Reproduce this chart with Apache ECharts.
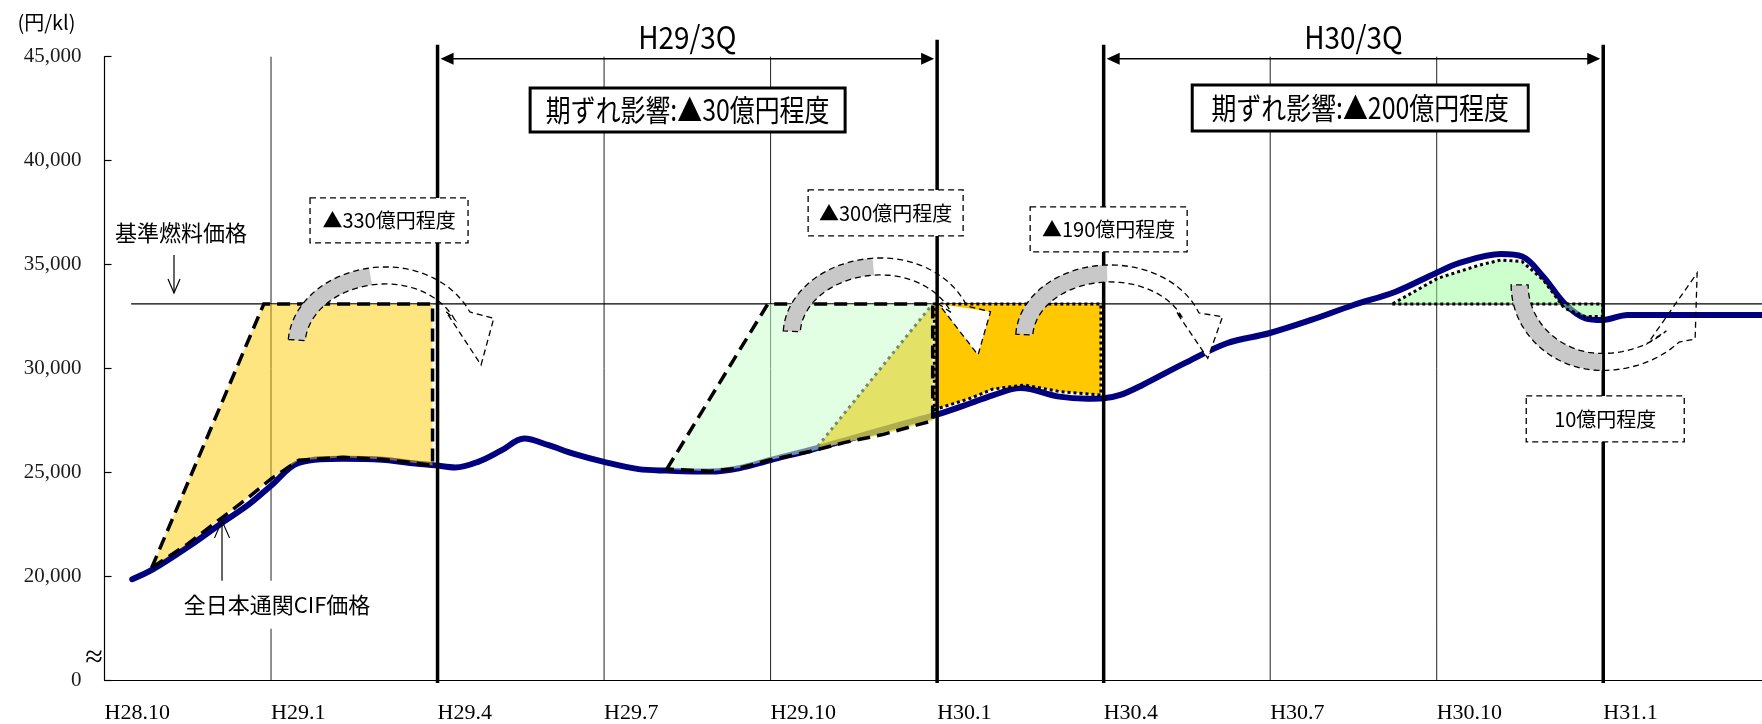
<!DOCTYPE html>
<html><head><meta charset="utf-8">
<script src="https://cdn.jsdelivr.net/npm/echarts@6/dist/echarts.min.js"></script>
<style>html,body{margin:0;padding:0;background:#fff}#c{width:1762px;height:724px}</style>
</head><body><div id="c"></div>
<script>
// ================= DATA (month index from H28.10 = 0, yen/kl) =================
const monthTickLabels = ['H28.10','H29.1','H29.4','H29.7','H29.10','H30.1','H30.4','H30.7','H30.10','H31.1'];
const brokenAxisZeroAt = 15000;           // y value shown as "0" (broken axis)
const baseFuelPrice = 33100;              // 基準燃料価格
const baseFuelRange = [0.48, 29.86];
const cifPrice = [
  [0.5,19850],[0.87,20320],[1.5,21400],[2.12,22570],[2.6,23450],[3.0,24350],[3.5,25450],
  [4.3,25650],[5.0,25600],[5.6,25420],[5.96,25330],[6.32,25230],[6.73,25500],[7.15,26050],
  [7.56,26620],[8.0,26300],[8.46,25880],[8.98,25510],[9.62,25150],[10.13,25080],[10.91,25030],
  [11.43,25190],[12.0,25590],[12.71,26070],[13.36,26550],[14.0,27040],[14.64,27520],[14.98,27760],
  [15.6,28320],[16.0,28700],[16.5,29050],[17.2,28640],[17.7,28540],[18.0,28560],[18.3,28720],
  [18.7,29200],[19.46,30250],[20.22,31210],[20.98,31690],[21.74,32330],[22.5,33050],[23.26,33690],
  [23.98,34580],[24.4,35060],[25.16,35500],[25.54,35380],[25.92,34410],[26.3,33130],[26.68,32410],
  [26.99,32330],[27.44,32570],[28.5,32570],[29.86,32570]
];
const thinGridMonths = [3, 9, 12, 21, 24];
const quarterBoundaryMonths = [6, 15, 18, 27];
const quarterSpans = [['H29/3Q', 6, 15], ['H30/3Q', 18, 27]];

// shaded regions (polygon vertices, [month, yen/kl])
const areaA = [[0.85,20400],[2.87,33100],[5.91,33100],[5.91,25330],[5.5,25480],[5.0,25620],[4.3,25720],
  [3.5,25580],[3.0,24680],[2.6,23800],[2.12,22820],[1.5,21550],[0.85,20400]];
const areaB = [[10.13,25150],[11.95,33100],[14.92,33100],[14.92,27480],[14.64,27280],[14.0,26800],
  [13.36,26450],[12.71,26000],[12.0,25600],[11.43,25200],[10.91,25050],[10.13,25150]];
const areaBOverlap = [[12.85,26250],[14.92,33100],[14.92,27480],[14.64,27280],[14.0,26800],[13.36,26450],[12.85,26150]];
const areaBDiagonal = [[12.85,26250],[14.92,33100]];
const areaC = [[14.95,33100],[17.95,33100],[17.95,28720],[17.21,28880],[16.57,29200],[16.0,29000],
  [15.6,28560],[15.03,28080],[14.95,28000]];
const areaD = [[23.2,33100],[26.99,33100],[26.99,32490],[26.68,32490],[26.3,32893],[25.92,34255],
  [25.54,35135],[25.16,35217],[24.78,34977],[24.02,34337],[23.6,33700],[23.2,33100]];

// annotation texts and anchors ([month, yen/kl])
const solidBoxTexts = ['期ずれ影響:▲30億円程度', '期ずれ影響:▲200億円程度'];
const solidBoxAt = [[10.505,42435],[22.622,42531]];
const dashBoxTexts = ['▲330億円程度', '▲300億円程度', '▲190億円程度', '10億円程度'];
const dashBoxAt = [[5.126,37118],[14.072,37479],[18.09,36685],[27.036,27566]];
const arrowCenters = [[5.072,31127],[13.991,31608],[18.117,31464],[26.98,34014]];
const baseLabel = ['基準燃料価格', [1.378,36516]];
const baseArrow = [1.252, 35458, 33630];
const cifLabel = ['全日本通関CIF価格', [3.108,18616]];
const cifArrow = [2.117, 19771, 22659];
const unitLabel = ['(円/kl)', [-1.045,46670]];
const breakMark = ['≈', [-0.19,16017]];

// ================= STYLE =================
const JP = "'Noto Sans CJK JP','Noto Sans CJK SC',sans-serif";
const SERIF = "'Liberation Serif','DejaVu Serif',serif";
const solidBoxSize = [[315,44],[336,46]];
const dashBoxSize = [[158,45],[155,46],[157,45],[158,46]];
const arrowGeom = [
  {rxL:89.5, rxR:84, ry:69.5, w:17, t0:176, tg:100, t1:25, head:[[-16.1,-3.9],[31.6,2.7],[18.9,49.4]], headFill:'#fff'},
  {rxL:89.5, rxR:84, ry:68.5, w:17, t0:177, tg:95,  t1:22, head:[[-20.3,-5.3],[31.5,2.4],[19,45.7]], headFill:'#fff'},
  {rxL:86,   rxR:86, ry:64.5, w:17, t0:177, tg:92,  t1:20, head:[[-14.8,-4.2],[31.6,0.8],[16.8,42.4]], headFill:'#fff'},
  {rxL:82.5, rxR:95, ry:77,   w:17, t0:180, tg:270, t1:318, head:[[-24.6,6.5],[22.4,2.5],[24.4,-63.5]], headFill:'none'}
];
const DASHED = {stroke:'#000', lineWidth:3.5, lineDash:[13,7]};
const DOTTED = {stroke:'#000', lineWidth:3, lineDash:[3,3]};
const fillDefs = [
  [areaA, 'rgba(255,204,0,0.5)'],
  [areaB, 'rgba(204,255,204,0.55)'],
  [areaBOverlap, 'rgba(228,200,0,0.55)'],
  [areaC, '#FFC800'],
  [areaD, 'rgba(153,255,153,0.5)']
];
const outlineDefs = [
  [areaA, DASHED, true], [areaB, DASHED, true],
  [areaBDiagonal, {stroke:'#6E8B74', lineWidth:3, lineDash:[3,4]}, false],
  [areaC, DOTTED, true], [areaD, DOTTED, true]
];

// ================= RENDER =================
const chart = echarts.init(document.getElementById('c'));
const pts = (api, arr) => arr.map(p => api.coord(p));

function arrowShapes(api, center, a) {
  const c = api.coord(center);
  const P = (t, off) => { const r = t*Math.PI/180, co = Math.cos(r), si = Math.sin(r);
    const rx = (co < 0 ? a.rxL : a.rxR) + off, ry = a.ry + off; return [c[0] + rx*co, c[1] - ry*si]; };
  const arc = (tA, tB, off) => { const out = []; for (let i = 0; i <= 40; i++) out.push(P(tA + (tB - tA)*i/40, off)); return out; };
  const h = a.w/2, e = P(a.t1, 0);
  const b1 = [e[0]+a.head[0][0], e[1]+a.head[0][1]], b2 = [e[0]+a.head[1][0], e[1]+a.head[1][1]], tip = [e[0]+a.head[2][0], e[1]+a.head[2][1]];
  const gray = arc(a.t0, a.tg, h).concat(arc(a.tg, a.t0, -h));
  const outline = arc(a.t0, a.t1, h).concat([b2, tip, b1]).concat(arc(a.t1, a.t0, -h));
  return [
    {type:'polygon', shape:{points:gray}, style:{fill:'#C8C8C8'}},
    {type:'polygon', shape:{points:[b1,b2,tip]}, style:{fill:a.headFill}},
    {type:'polygon', shape:{points:outline}, style:{fill:'none', stroke:'#000', lineWidth:1.3, lineDash:[6,4]}}
  ];
}

function notes(params, api) {
  const ch = [];
  const text = (t, p, size, extra) => Object.assign({type:'text', x:p[0], y:p[1],
    style:Object.assign({text:t, fontSize:size, fontFamily:JP, fill:'#000', align:'center', verticalAlign:'middle'}, (extra||{}).style||{})},
    (extra||{}).el||{});
  // quarter double arrows
  quarterSpans.forEach(q => {
    const a = api.coord([q[1], 45000]), b = api.coord([q[2], 45000]);
    const y = a[1] + 2, x1 = a[0] + 3, x2 = b[0] - 3;
    ch.push({type:'line', shape:{x1:x1+10, y1:y, x2:x2-10, y2:y}, style:{stroke:'#000', lineWidth:1.5}});
    ch.push({type:'polygon', shape:{points:[[x1,y],[x1+13,y-6],[x1+13,y+6]]}, style:{fill:'#000'}});
    ch.push({type:'polygon', shape:{points:[[x2,y],[x2-13,y-6],[x2-13,y+6]]}, style:{fill:'#000'}});
    ch.push(text(q[0], [(x1+x2)/2, y - 21], 31, {el:{scaleX:0.9}}));
  });
  // solid boxes
  solidBoxTexts.forEach((t, i) => {
    const p = api.coord(solidBoxAt[i]), s = solidBoxSize[i];
    ch.push({type:'rect', shape:{x:p[0]-s[0]/2, y:p[1]-s[1]/2, width:s[0], height:s[1]}, style:{fill:'#fff', stroke:'#000', lineWidth:3}});
    ch.push(text(t, p, 30, {el:{scaleX:0.83}}));
  });
  // curved arrows
  arrowCenters.forEach((c, i) => arrowShapes(api, c, arrowGeom[i]).forEach(e => ch.push(e)));
  // dashed boxes
  dashBoxTexts.forEach((t, i) => {
    const p = api.coord(dashBoxAt[i]), s = dashBoxSize[i];
    ch.push({type:'rect', shape:{x:p[0]-s[0]/2, y:p[1]-s[1]/2, width:s[0], height:s[1]}, style:{fill:'#fff', stroke:'#000', lineWidth:1.3, lineDash:[6,4]}});
    ch.push(text(t, p, 20));
  });
  // base fuel label + arrow
  ch.push(text(baseLabel[0], api.coord(baseLabel[1]), 22));
  {
    const a = api.coord([baseArrow[0], baseArrow[1]]), b = api.coord([baseArrow[0], baseArrow[2]]);
    ch.push({type:'line', shape:{x1:a[0], y1:a[1], x2:b[0], y2:b[1]}, style:{stroke:'#000', lineWidth:1.2}});
    ch.push({type:'polyline', shape:{points:[[b[0]-6,b[1]-14],[b[0],b[1]],[b[0]+6,b[1]-14]]}, style:{stroke:'#000', lineWidth:1.2, fill:'none'}});
  }
  // CIF label + arrow
  ch.push(text(cifLabel[0], api.coord(cifLabel[1]), 22, {style:{backgroundColor:'#fff', padding:[13,4]}}));
  {
    const a = api.coord([cifArrow[0], cifArrow[1]]), b = api.coord([cifArrow[0], cifArrow[2]]);
    ch.push({type:'line', shape:{x1:a[0], y1:a[1], x2:b[0], y2:b[1]}, style:{stroke:'#000', lineWidth:1.2}});
    ch.push({type:'polyline', shape:{points:[[b[0]-7.5,b[1]+17],[b[0],b[1]],[b[0]+7.5,b[1]+17]]}, style:{stroke:'#000', lineWidth:1.2, fill:'none'}});
  }
  ch.push(text(unitLabel[0], api.coord(unitLabel[1]), 20));
  ch.push(text(breakMark[0], api.coord(breakMark[1]), 32, {style:{fontFamily:SERIF}}));
  return {type:'group', children:ch};
}

const option = {
  animation:false,
  backgroundColor:'#fff',
  grid:{left:104.5, right:0, top:56.7, bottom:43.9},
  xAxis:{type:'value', min:0, max:29.86, interval:3,
    axisLine:{show:true, onZero:false, lineStyle:{color:'#000', width:1.2}},
    axisTick:{show:false}, splitLine:{show:false},
    axisLabel:{formatter:v => monthTickLabels[Math.round(v/3)] || '', align:'left', margin:22,
      fontFamily:SERIF, fontSize:22, color:'#000', showMaxLabel:false}},
  yAxis:{type:'value', min:15000, max:45000, interval:5000,
    axisLine:{show:true, lineStyle:{color:'#000', width:1.2}},
    axisTick:{show:true, inside:true, length:7, lineStyle:{color:'#000', width:1.2}},
    splitLine:{show:false},
    axisLabel:{formatter:v => v === brokenAxisZeroAt ? '0' : v.toLocaleString('en-US'), margin:23,
      fontFamily:SERIF, fontSize:21, color:'#1a1a1a'}},
  series:[
    {type:'custom', z:1, silent:true, data:[[0,30000]], renderItem:(p, api) => ({type:'group',
      children:thinGridMonths.map(m => { const a = api.coord([m,15000]), b = api.coord([m,45000]);
        return {type:'line', shape:{x1:a[0], y1:a[1], x2:b[0], y2:b[1]}, style:{stroke:'#222', lineWidth:1}}; })})},
    {type:'line', z:2, silent:true, symbol:'none', data:[[baseFuelRange[0],baseFuelPrice],[baseFuelRange[1],baseFuelPrice]],
      lineStyle:{color:'#000', width:1.2}},
    {type:'line', z:3, silent:true, symbol:'none', smooth:0.35, data:cifPrice,
      lineStyle:{color:'#000080', width:6, cap:'round', join:'round'}},
    {type:'custom', z:4, silent:true, data:fillDefs.map((d,i) => [i,30000]), renderItem:(p, api) => {
      const d = fillDefs[p.dataIndex];
      return {type:'polygon', shape:{points:pts(api, d[0])}, style:{fill:d[1]}}; }},
    {type:'custom', z:5, silent:true, data:outlineDefs.map((d,i) => [i,30000]), renderItem:(p, api) => {
      const d = outlineDefs[p.dataIndex];
      return {type:d[2] ? 'polygon' : 'polyline', shape:{points:pts(api, d[0])}, style:Object.assign({fill:'none'}, d[1])}; }},
    {type:'custom', z:6, silent:true, clip:false, data:[[0,30000]], renderItem:(p, api) => ({type:'group',
      children:quarterBoundaryMonths.map(m => { const a = api.coord([m,15000]), b = api.coord([m,45000]);
        return {type:'line', shape:{x1:a[0], y1:a[1]+3, x2:b[0], y2:b[1]-(m===15?17:12)}, style:{stroke:'#000', lineWidth:3.5}}; })})},
    {type:'custom', z:7, silent:true, clip:false, data:[[0,30000]], renderItem:notes}
  ]
};
chart.setOption(option);
</script>
</body></html>
